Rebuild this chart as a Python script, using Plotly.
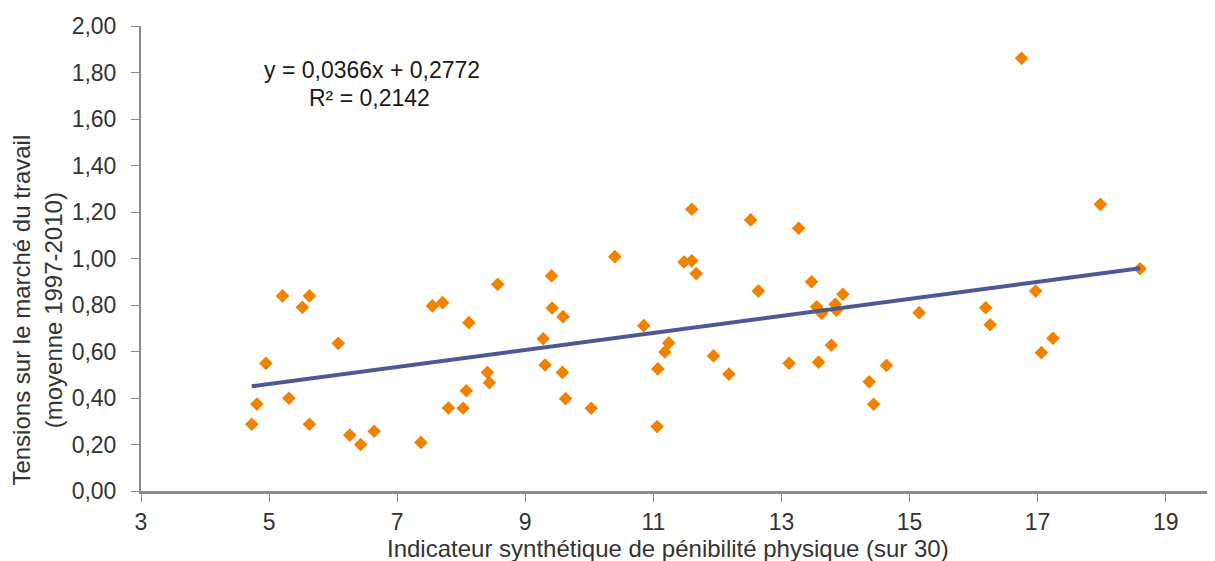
import plotly.graph_objects as go

# Indicateur synthétique de pénibilité physique (sur 30)
penibilite = [4.73, 4.81, 4.95, 5.21, 5.31, 5.52, 5.63, 5.63, 6.08, 6.26,
              6.43, 6.64, 7.37, 7.55, 7.71, 7.80, 8.03, 8.08, 8.12, 8.41,
              8.44, 8.57, 9.28, 9.31, 9.41, 9.42, 9.58, 9.59, 9.63, 10.03,
              10.40, 10.85, 11.06, 11.07, 11.18, 11.24, 11.48, 11.60, 11.60, 11.67,
              11.94, 12.18, 12.52, 12.64, 13.12, 13.27, 13.47, 13.55, 13.58, 13.63,
              13.78, 13.84, 13.86, 13.96, 14.37, 14.44, 14.64, 15.15, 16.19, 16.26,
              16.75, 16.97, 17.06, 17.24, 17.98, 18.60]
# Tensions sur le marché du travail (moyenne 1997-2010)
tensions = [0.287, 0.374, 0.549, 0.839, 0.399, 0.790, 0.839, 0.287, 0.635, 0.240,
            0.200, 0.257, 0.209, 0.796, 0.810, 0.357, 0.356, 0.431, 0.724, 0.510,
            0.466, 0.889, 0.655, 0.542, 0.925, 0.787, 0.510, 0.750, 0.397, 0.356,
            1.008, 0.711, 0.277, 0.525, 0.598, 0.637, 0.985, 0.990, 1.212, 0.935,
            0.581, 0.503, 1.166, 0.860, 0.549, 1.130, 0.900, 0.792, 0.554, 0.764,
            0.627, 0.803, 0.777, 0.846, 0.470, 0.373, 0.540, 0.767, 0.788, 0.715,
            1.861, 0.860, 0.595, 0.657, 1.233, 0.956]

# Regression shown on the chart
SLOPE = 0.0366
INTERCEPT = 0.2772
equation_text = "y = 0,0366x + 0,2772"
r2_text = "R² = 0,2142"

x_title = "Indicateur synthétique de pénibilité physique (sur 30)"
y_title = "Tensions sur le marché du travail<br>(moyenne 1997-2010)"

trend_x = [min(penibilite), max(penibilite)]
trend_y = [SLOPE * v + INTERCEPT for v in trend_x]

FONT = "Liberation Sans, Arial, sans-serif"
TEXT = "#333333"

fig = go.Figure()
fig.add_trace(go.Scatter(
    x=penibilite, y=tensions, mode="markers",
    marker=dict(symbol="diamond", size=10.5, color="#F08200", line=dict(width=0)),
    showlegend=False, hoverinfo="x+y"))
fig.add_trace(go.Scatter(
    x=trend_x, y=trend_y, mode="lines",
    line=dict(color="#4E5894", width=4), showlegend=False, hoverinfo="skip"))

fig.update_layout(
    width=1207, height=553,
    margin=dict(l=133, r=0, t=18, b=70),
    paper_bgcolor="white", plot_bgcolor="white",
    separators=", ",
    font=dict(family=FONT, size=23, color=TEXT),
    xaxis=dict(range=[3, 19.77], tick0=3, dtick=2, showgrid=False, zeroline=False,
               showline=True, linecolor="#8a8a8a", linewidth=3,
               ticks="outside", ticklen=8, tickwidth=1, tickcolor="#8a8a8a",
               tickfont=dict(family=FONT, size=23, color=TEXT)),
    yaxis=dict(range=[0, 2], dtick=0.2, tickformat=".2f", showgrid=False, zeroline=False,
               showline=True, linecolor="#8a8a8a", linewidth=2,
               ticks="outside", ticklen=8, tickwidth=1, tickcolor="#8a8a8a",
               ticklabelstandoff=10,
               tickfont=dict(family=FONT, size=23, color=TEXT)),
    annotations=[
        dict(text=equation_text, xref="paper", yref="paper", x=0.2151, y=0.9054,
             xanchor="center", yanchor="middle", showarrow=False,
             font=dict(family=FONT, size=23, color="#1a1a1a")),
        dict(text=r2_text, xref="paper", yref="paper", x=0.2132, y=0.845,
             xanchor="center", yanchor="middle", showarrow=False,
             font=dict(family=FONT, size=23, color="#1a1a1a")),
        dict(text=x_title, xref="paper", yref="paper", x=0.4907, y=-0.1247,
             xanchor="center", yanchor="middle", showarrow=False,
             font=dict(family=FONT, size=24, color=TEXT)),
        dict(text=y_title, xref="paper", yref="paper", x=-0.0964, y=0.389,
             xanchor="center", yanchor="middle", showarrow=False, textangle=-90,
             font=dict(family=FONT, size=24, color=TEXT)),
    ],
)

fig.write_html("out.html")
